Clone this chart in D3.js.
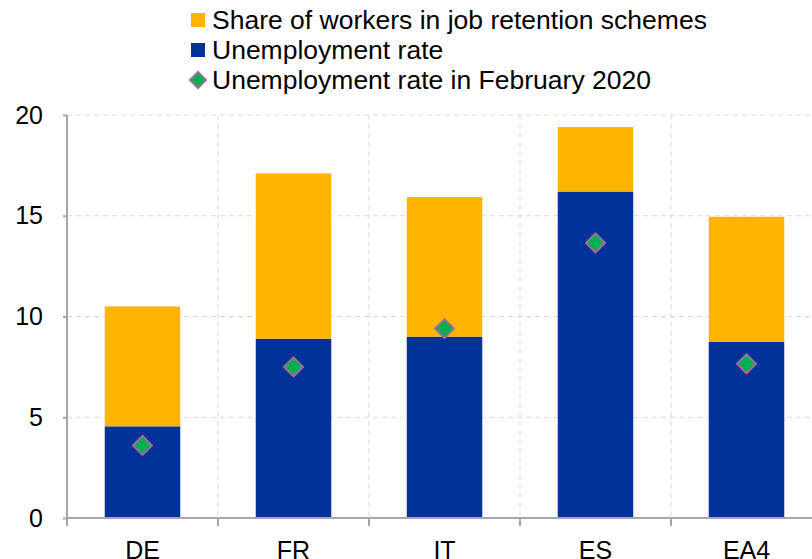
<!DOCTYPE html>
<html>
<head>
<meta charset="utf-8">
<script src="https://cdn.jsdelivr.net/npm/d3@7"></script>
<style>
  body { margin: 0; background: #fff; }
  svg { display: block; font-family: "Liberation Sans", Arial, sans-serif; }
  .grid line { stroke: #d9d9d9; stroke-dasharray: 5 4; }
</style>
</head>
<body>
<div id="chart"></div>
<script>
const countries = ["DE", "FR", "IT", "ES", "EA4"];
const unemployment = [4.55, 8.9, 9.0, 16.2, 8.75];
const retention = [5.95, 8.2, 6.93, 3.2, 6.2];
const feb2020 = [3.6, 7.5, 9.4, 13.65, 7.65];
const yTicks = [0, 5, 10, 15, 20];
const legendLabels = ["Share of workers in job retention schemes", "Unemployment rate", "Unemployment rate in February 2020"];

const w = 812;
const h = 559;
const plotLeft = 67;
const plotRight = 822;
const plotTop = 115;
const plotBottom = 518;
const blue = "#003299";
const yellow = "#ffb400";
const green = "#00b050";

const svg = d3.select("#chart")
  .append("svg")
  .attr("width", w)
  .attr("height", h);

const xScale = d3.scaleBand()
  .domain(countries)
  .range([plotLeft, plotRight])
  .paddingInner(0.5)
  .paddingOuter(0.25);

const yScale = d3.scaleLinear()
  .domain([0, 20])
  .range([plotBottom, plotTop]);

// horizontal gridlines
svg.append("g")
  .attr("class", "grid")
  .selectAll("line")
  .data(yTicks.slice(1))
  .enter()
  .append("line")
  .attr("x1", plotLeft)
  .attr("x2", plotRight)
  .attr("y1", (d) => yScale(d))
  .attr("y2", (d) => yScale(d));

// vertical gridlines at category boundaries
const step = xScale.step();
svg.append("g")
  .attr("class", "grid")
  .selectAll("line")
  .data(countries.slice(1))
  .enter()
  .append("line")
  .attr("x1", (d) => xScale(d) - step * 0.25)
  .attr("x2", (d) => xScale(d) - step * 0.25)
  .attr("y1", plotTop)
  .attr("y2", plotBottom);

// stacked bars
svg.append("g")
  .selectAll("rect")
  .data(countries)
  .enter()
  .append("rect")
  .attr("x", (d) => xScale(d))
  .attr("width", xScale.bandwidth())
  .attr("y", (d, i) => yScale(unemployment[i]))
  .attr("height", (d, i) => yScale(0) - yScale(unemployment[i]))
  .attr("fill", blue);

svg.append("g")
  .selectAll("rect")
  .data(countries)
  .enter()
  .append("rect")
  .attr("x", (d) => xScale(d))
  .attr("width", xScale.bandwidth())
  .attr("y", (d, i) => yScale(unemployment[i] + retention[i]))
  .attr("height", (d, i) => yScale(unemployment[i]) - yScale(unemployment[i] + retention[i]))
  .attr("fill", yellow);

// february 2020 diamonds
const diamond = d3.symbol().type(d3.symbolSquare).size(180);
svg.append("g")
  .selectAll("path")
  .data(countries)
  .enter()
  .append("path")
  .attr("d", diamond)
  .attr("transform", (d, i) => `translate(${xScale(d) + xScale.bandwidth() / 2}, ${yScale(feb2020[i])}) rotate(45)`)
  .attr("fill", green)
  .attr("stroke", "#a0709a")
  .attr("stroke-width", 2);

// axes
const xAxis = d3.axisBottom(xScale).tickSize(0).tickPadding(23);
const gx = svg.append("g")
  .attr("transform", `translate(0, ${plotBottom})`)
  .call(xAxis);
gx.select(".domain").attr("stroke", "#a6a6a6").attr("stroke-width", 2).attr("d", `M${plotLeft},0H${plotRight}`);
gx.selectAll("text").attr("font-size", 25).attr("fill", "#000").attr("dy", "0.71em");
gx.selectAll(".boundary")
  .data(d3.range(countries.length))
  .enter()
  .append("line")
  .attr("x1", (d) => plotLeft + d * step)
  .attr("x2", (d) => plotLeft + d * step)
  .attr("y1", 0)
  .attr("y2", 8)
  .attr("stroke", "#a6a6a6")
  .attr("stroke-width", 2);

const yAxis = d3.axisLeft(yScale).tickValues(yTicks).tickSize(4).tickPadding(20);
const gy = svg.append("g")
  .attr("transform", `translate(${plotLeft}, 0)`)
  .call(yAxis);
gy.select(".domain").attr("stroke", "#a6a6a6").attr("stroke-width", 2).attr("d", `M0,${plotTop}V${plotBottom}`);
gy.selectAll(".tick line").attr("stroke", "#a6a6a6").attr("stroke-width", 2);
gy.selectAll("text").attr("font-size", 25).attr("fill", "#000");

// legend
const legend = svg.append("g");
legendLabels.forEach((label, i) => {
  const cy = 20 + i * 30;
  if (i < 2) {
    legend.append("rect")
      .attr("x", 191)
      .attr("y", cy - 7)
      .attr("width", 14)
      .attr("height", 14)
      .attr("fill", i === 0 ? yellow : blue);
  } else {
    legend.append("path")
      .attr("d", d3.symbol().type(d3.symbolSquare).size(130))
      .attr("transform", `translate(198, ${cy}) rotate(45)`)
      .attr("fill", green)
      .attr("stroke", "#a0709a")
      .attr("stroke-width", 2);
  }
  legend.append("text")
    .attr("x", 212)
    .attr("y", cy)
    .attr("dy", "0.34em")
    .attr("font-size", 26.5)
    .text(label);
});
</script>
</body>
</html>
